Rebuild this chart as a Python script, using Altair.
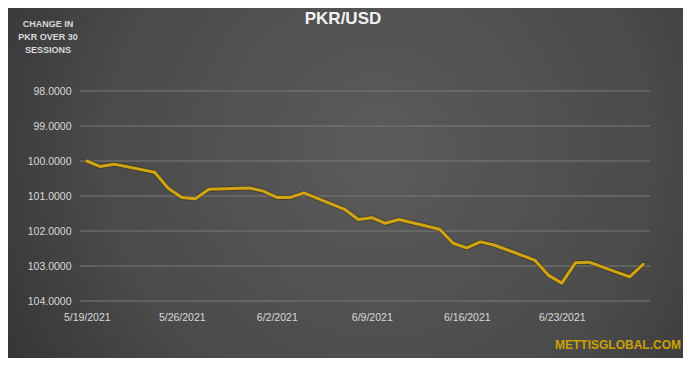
import altair as alt
import pandas as pd

dates = ["2021-05-19", "2021-05-20", "2021-05-21", "2021-05-24", "2021-05-25",
         "2021-05-26", "2021-05-27", "2021-05-28", "2021-05-31", "2021-06-01",
         "2021-06-02", "2021-06-03", "2021-06-04", "2021-06-07", "2021-06-08",
         "2021-06-09", "2021-06-10", "2021-06-11", "2021-06-14", "2021-06-15",
         "2021-06-16", "2021-06-17", "2021-06-18", "2021-06-21", "2021-06-22",
         "2021-06-23", "2021-06-24", "2021-06-25", "2021-06-28", "2021-06-29"]
values = [100.00, 100.16, 100.09, 100.32, 100.78,
          101.04, 101.08, 100.81, 100.77, 100.86,
          101.04, 101.04, 100.91, 101.38, 101.67,
          101.62, 101.78, 101.67, 101.95, 102.35,
          102.48, 102.31, 102.40, 102.83, 103.26,
          103.49, 102.91, 102.89, 103.31, 102.95]
y_ticks = [98, 99, 100, 101, 102, 103, 104]
x_tick_days = [19, 26, 2, 9, 16, 23]
x_tick_months = [5, 5, 6, 6, 6, 6]
title_text = "PKR/USD"
side_text = "CHANGE IN\nPKR OVER 30\nSESSIONS"
watermark = "METTISGLOBAL.COM"

df = pd.DataFrame({"date": dates, "value": values})
grid_df = pd.DataFrame({"value": y_ticks})

W, H = 570, 210
PAD = {"left": 72, "top": 83, "right": 33, "bottom": 57}
FONT = "Liberation Sans"

x_enc = alt.X(
    "date:T",
    scale=alt.Scale(type="utc",
                    domain=[alt.DateTime(year=2021, month=5, date=18, hours=12, utc=True),
                            alt.DateTime(year=2021, month=6, date=29, hours=12, utc=True)]),
    axis=alt.Axis(
        values=[alt.DateTime(year=2021, month=m, date=d, utc=True)
                for m, d in zip(x_tick_months, x_tick_days)],
        labelExpr="utcFormat(datum.value, '%-m/%-d/%Y')",
        grid=False, ticks=False, domain=False, title=None, zindex=1,
        labelColor="#d9d9d9", labelFontSize=10.5, labelFont=FONT, labelPadding=11,
    ),
)
y_enc = alt.Y(
    "value:Q",
    scale=alt.Scale(domain=[98, 104], reverse=True, nice=False, zero=False),
    axis=alt.Axis(
        values=y_ticks, format=".4f", grid=False,
        ticks=False, domain=False, title=None, zindex=1,
        labelColor="#d9d9d9", labelFontSize=10.5, labelFont=FONT, labelPadding=9,
    ),
)

bg_grad = alt.RadialGradient(
    gradient="radial",
    stops=[alt.GradientStop(color="#5b5b5b", offset=0),
           alt.GradientStop(color="#4a4a4a", offset=0.55),
           alt.GradientStop(color="#2b2b2b", offset=1)],
    x1=0.55, y1=0.45, r1=0, x2=0.55, y2=0.45, r2=0.75,
)

one = alt.Data(values=[{"a": 1}])

bg = alt.Chart(one).mark_rect(fill=bg_grad).encode(
    x=alt.value(-PAD["left"]), x2=alt.value(W + PAD["right"]),
    y=alt.value(-PAD["top"]), y2=alt.value(H + PAD["bottom"]),
)

grid = alt.Chart(grid_df).mark_rule(color="#7a7a7a", strokeWidth=1).encode(
    y=y_enc, x=alt.value(0), x2=alt.value(W))

shadow = alt.Chart(df).mark_line(color="#3a300c", strokeWidth=5, opacity=0.5,
                                 strokeJoin="round", strokeCap="round").encode(x=x_enc, y=y_enc)
line = alt.Chart(df).mark_line(color="#d1a414", strokeWidth=3,
                               strokeJoin="round", strokeCap="round").encode(x=x_enc, y=y_enc)

title = alt.Chart(one).mark_text(text=title_text, font=FONT, fontSize=17, fontWeight="bold",
                                 color="#f2f2f2", align="center", baseline="middle").encode(
    x=alt.value(263), y=alt.value(-72))

side = alt.Chart(one).mark_text(text=side_text, lineBreak="\n", lineHeight=13,
                                font=FONT, fontSize=9, fontWeight="bold", color="#d9d9d9",
                                align="center", baseline="top").encode(
    x=alt.value(-32), y=alt.value(-71))

wm = alt.Chart(one).mark_text(text=watermark, font="Liberation Sans Narrow, Liberation Sans",
                              fontSize=12, fontWeight="bold", color="#c9a000",
                              align="right", baseline="middle").encode(
    x=alt.value(601), y=alt.value(254))

chart = alt.layer(bg, grid, shadow, line, title, side, wm).properties(
    width=W, height=H, padding=PAD, autosize=alt.AutoSizeParams(type="none"),
    background="#333333",
).configure_view(stroke=None)

chart.save("out.html", embed_options={"renderer": "svg", "actions": False})
